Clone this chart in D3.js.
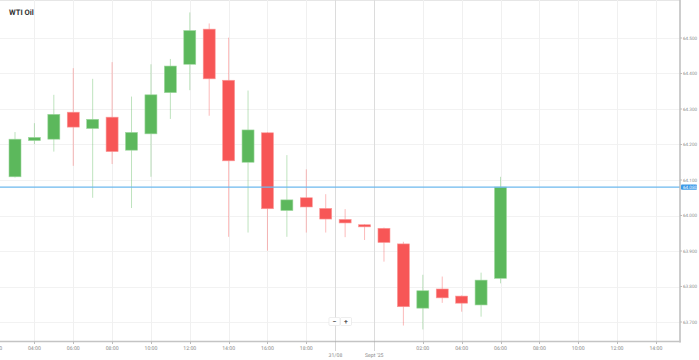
<!DOCTYPE html>
<html>
<head>
<meta charset="utf-8">
<script src="https://cdn.jsdelivr.net/npm/d3@7"></script>
<style>
  html, body { margin: 0; padding: 0; background: #fff; }
  svg { display: block; font-family: Roboto, "Open Sans", sans-serif; }
  text { text-rendering: geometricPrecision; }
</style>
</head>
<body>
<svg id="chart" width="699" height="360"></svg>
<script>
// hourly candles, slot index = position on the (gapless) time axis
const hours = ["03:00", "04:00", "05:00", "06:00", "07:00", "08:00", "09:00", "10:00", "11:00",
	"12:00", "13:00", "14:00", "15:00", "16:00", "17:00", "18:00", "19:00", "22:00", "23:00",
	"00:00", "01:00", "02:00", "03:00", "04:00", "05:00", "06:00"];
const open = [64.109, 64.211, 64.215, 64.291, 64.245, 64.277, 64.184, 64.230, 64.346, 64.426,
	64.525, 64.381, 64.150, 64.233, 64.014, 64.050, 64.020, 63.989, 63.974, 63.964, 63.920,
	63.739, 63.793, 63.773, 63.748, 63.823];
const high = [64.235, 64.260, 64.340, 64.415, 64.385, 64.432, 64.335, 64.426, 64.441, 64.572,
	64.541, 64.501, 64.352, 64.235, 64.170, 64.130, 64.060, 64.018, 63.976, 63.966, 63.926,
	63.833, 63.828, 63.775, 63.839, 64.109];
const low = [64.107, 64.201, 64.180, 64.140, 64.050, 64.145, 64.021, 64.109, 64.272, 64.353,
	64.281, 63.940, 63.952, 63.901, 63.940, 63.952, 63.952, 63.939, 63.931, 63.870, 63.690,
	63.679, 63.754, 63.729, 63.715, 63.809];
const close = [64.215, 64.220, 64.285, 64.249, 64.271, 64.180, 64.234, 64.340, 64.421, 64.521,
	64.385, 64.154, 64.241, 64.019, 64.044, 64.024, 63.990, 63.979, 63.968, 63.924, 63.743,
	63.788, 63.768, 63.753, 63.818, 64.080];

const xTickSlots = [-1, 1, 3, 5, 7, 9, 11, 13, 15, 21, 23, 25, 27, 29, 31, 33];
const xTickLabels = ["02:00", "04:00", "06:00", "08:00", "10:00", "12:00", "14:00", "16:00", "18:00",
	"02:00", "04:00", "06:00", "08:00", "10:00", "12:00", "14:00"];
const daySlots = [16.5, 18.5];
const dayLabels = ["31/08", "Sept '25"];
const yTicks = [63.7, 63.8, 63.9, 64.0, 64.1, 64.2, 64.3, 64.4, 64.5];
const lastPrice = 64.080;
const title = "WTI Oil";

const candles = hours.map((h, i) => ({
	slot: i, time: h, open: open[i], high: high[i], low: low[i], close: close[i]
}));

const plotRight = 680;
const plotBottom = 341.5;

const svg = d3.select("#chart");
const x = d3.scaleLinear().domain([0, 25]).range([15, 500.5]);
const y = d3.scaleLinear().domain([63.7, 64.5]).range([322, 38]);

const UP = "#5cb85c";
const DOWN = "#f75656";

// grid
const grid = svg.append("g").attr("id", "grid");
grid.append("line")
	.attr("x1", 0).attr("x2", plotRight).attr("y1", 0.5).attr("y2", 0.5)
	.attr("stroke", "#e6e6e6");
grid.selectAll("line.h")
	.data(yTicks)
	.enter()
	.append("line")
	.attr("class", "h")
	.attr("x1", 0).attr("x2", plotRight)
	.attr("y1", d => Math.round(y(d)) + 0.5)
	.attr("y2", d => Math.round(y(d)) + 0.5)
	.attr("stroke", "#f2f2f2");
grid.selectAll("line.v")
	.data(xTickSlots)
	.enter()
	.append("line")
	.attr("class", "v")
	.attr("x1", d => Math.round(x(d)) + 0.5)
	.attr("x2", d => Math.round(x(d)) + 0.5)
	.attr("y1", 0).attr("y2", plotBottom)
	.attr("stroke", "#f0f0f0");
grid.selectAll("line.day")
	.data(daySlots)
	.enter()
	.append("line")
	.attr("class", "day")
	.attr("x1", d => Math.round(x(d)) + 0.5)
	.attr("x2", d => Math.round(x(d)) + 0.5)
	.attr("y1", 0).attr("y2", plotBottom)
	.attr("stroke", "#dcdcdc");

// candles
const candleW = 12;
const cg = svg.append("g").attr("id", "candles");
const c = cg.selectAll("g")
	.data(candles)
	.enter()
	.append("g")
	.attr("transform", d => `translate(${x(d.slot)},0)`);
c.append("line")
	.attr("x1", 0).attr("x2", 0)
	.attr("y1", d => y(d.high))
	.attr("y2", d => y(d.low))
	.attr("stroke", d => d.close >= d.open ? UP : DOWN)
	.attr("stroke-opacity", 0.4)
	.attr("stroke-width", 1);
c.append("rect")
	.attr("x", -candleW / 2)
	.attr("width", candleW)
	.attr("y", d => y(Math.max(d.open, d.close)))
	.attr("height", d => Math.max(1.5, Math.abs(y(d.open) - y(d.close))))
	.attr("fill", d => d.close >= d.open ? UP : DOWN)
	.attr("stroke", d => d.close >= d.open ? "#9fd89f" : "#fb9a9a")
	.attr("stroke-width", 0.6);

// last price line
svg.append("line")
	.attr("x1", 0).attr("x2", plotRight)
	.attr("y1", y(lastPrice))
	.attr("y2", y(lastPrice))
	.attr("stroke", "#6cb8ee")
	.attr("stroke-width", 1.4);

// axes lines
svg.append("line")
	.attr("x1", plotRight).attr("x2", plotRight)
	.attr("y1", 0).attr("y2", plotBottom + 1)
	.attr("stroke", "#bdbdbd").attr("stroke-width", 1.5);
svg.append("line")
	.attr("x1", 0).attr("x2", plotRight + 0.75)
	.attr("y1", plotBottom).attr("y2", plotBottom)
	.attr("stroke", "#c4c4c4").attr("stroke-width", 1.5);

// y labels
const yl = svg.append("g").attr("id", "ylabels");
yl.selectAll("g")
	.data(yTicks)
	.enter()
	.append("g")
	.attr("transform", d => `translate(${plotRight},${y(d)})`)
	.call(g => g.append("line").attr("x1", 0).attr("x2", 2).attr("stroke", "#bbb"))
	.call(g => g.append("text")
		.attr("x", 3).attr("dy", "0.35em")
		.attr("font-size", 4.6)
		.attr("fill", "#8a8a8a")
		.text(d => d3.format(".3f")(d)));

// last price tag
const tag = svg.append("g").attr("transform", `translate(${plotRight + 1},${y(lastPrice)})`);
tag.append("rect")
	.attr("x", 0).attr("y", -2.6).attr("width", 16).attr("height", 5.2)
	.attr("rx", 1)
	.attr("fill", "#3d9ae8");
tag.append("text")
	.attr("x", 2).attr("dy", "0.35em")
	.attr("font-size", 4.6)
	.attr("fill", "#fff")
	.text(d3.format(".3f")(lastPrice));

// x labels
const xl = svg.append("g").attr("id", "xlabels");
xl.selectAll("text.t")
	.data(xTickSlots)
	.enter()
	.append("text")
	.attr("class", "t")
	.attr("x", d => x(d))
	.attr("y", plotBottom + 8.5)
	.attr("text-anchor", "middle")
	.attr("font-size", 5.2)
	.attr("fill", "#8a8a8a")
	.text((d, i) => xTickLabels[i]);
xl.selectAll("line.t")
	.data(xTickSlots)
	.enter()
	.append("line")
	.attr("class", "t")
	.attr("x1", d => Math.round(x(d)) + 0.5)
	.attr("x2", d => Math.round(x(d)) + 0.5)
	.attr("y1", plotBottom).attr("y2", plotBottom + 2.5)
	.attr("stroke", "#bbb");
xl.selectAll("line.day")
	.data(daySlots)
	.enter()
	.append("line")
	.attr("class", "day")
	.attr("x1", d => Math.round(x(d)) + 0.5)
	.attr("x2", d => Math.round(x(d)) + 0.5)
	.attr("y1", plotBottom).attr("y2", plotBottom + 9)
	.attr("stroke", "#aaa")
	.attr("stroke-dasharray", "1,1");
xl.selectAll("text.day")
	.data(daySlots)
	.enter()
	.append("text")
	.attr("class", "day")
	.attr("x", d => x(d))
	.attr("y", plotBottom + 15)
	.attr("text-anchor", "middle")
	.attr("font-size", 5.2)
	.attr("fill", "#8a8a8a")
	.text((d, i) => dayLabels[i]);

// zoom buttons
const btns = svg.append("g").attr("transform", "translate(329,317.5)");
["\u2212", "+"].forEach((s, i) => {
	const b = btns.append("g").attr("transform", `translate(${i * 11.5},0)`);
	b.append("rect")
		.attr("width", 11).attr("height", 8).attr("rx", 1)
		.attr("fill", "#fff").attr("stroke", "#e2e2e2").attr("stroke-width", 0.6);
	b.append("text")
		.attr("x", 5.5).attr("y", 6.2)
		.attr("text-anchor", "middle")
		.attr("font-size", 7)
		.attr("font-weight", "bold")
		.attr("fill", "#555")
		.text(s);
});

// title
svg.append("text")
	.attr("x", 9).attr("y", 15)
	.attr("font-size", 7.6)
	.attr("font-weight", "bold")
	.attr("fill", "#333")
	.text(title);
</script>
</body>
</html>
